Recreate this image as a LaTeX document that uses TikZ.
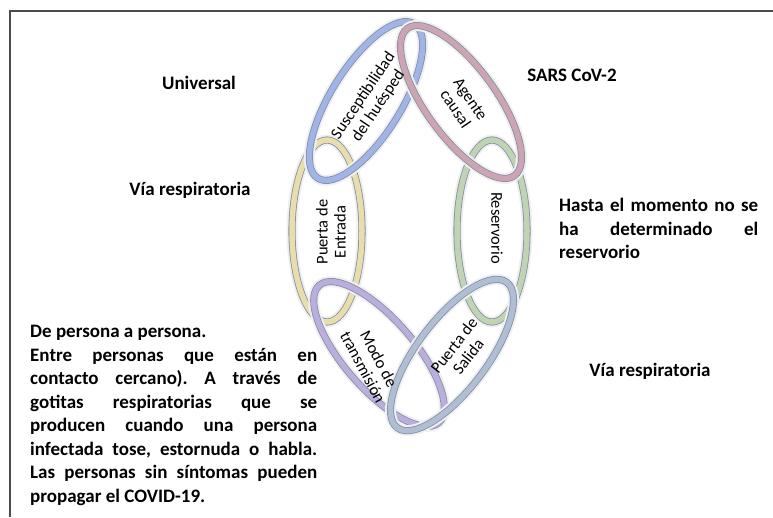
\documentclass[tikz,border=0pt]{standalone}
\usepackage{fontspec}
\setmainfont{Carlito}
\usepackage{xcolor}
\usepackage{tikz}
\usetikzlibrary{shapes}
\definecolor{linkblue}{RGB}{160,180,230}
\definecolor{linkrose}{RGB}{205,165,178}
\definecolor{linksand}{RGB}{232,222,172}
\definecolor{linksage}{RGB}{192,212,180}
\definecolor{linklilac}{RGB}{188,174,220}
\definecolor{linksteel}{RGB}{176,190,212}
\definecolor{rimgrey}{RGB}{130,142,165}
\tikzset{link/.style={ellipse, inner sep=0pt, minimum width=182pt, minimum height=70pt,
    preaction={draw=gray!12, line width=11pt},
    draw=rimgrey, line width=0.8pt, double=#1, double distance=5.5pt},
  linktext/.style={inner sep=0pt, align=center, font=\fontsize{16.5}{18}\selectfont},
  note/.style={inner sep=0pt, font=\bfseries\fontsize{19}{23.5}\selectfont},
  para/.style={note, anchor=north west, align=justify, text width=#1}}

\begin{document}
\frenchspacing
\begin{tikzpicture}[x=1pt,y=-1pt]
\useasboundingbox (0,0) rectangle (773,517);
\draw[line width=1.4pt,gray!60!black] (10,517) -- (10,11) -- (773,11);
\node[link=linksand,rotate=90] (entrada) at (327,231) {};
\node[link=linksage,rotate=-90] (reservorio) at (492,231) {};
\node[link=linkblue,rotate=58] (huesped) at (366,101) {};
\node[link=linkrose,rotate=-54] (agente) at (461,102) {};
\node[link=linklilac,rotate=-49] (modo) at (379,354) {};
\node[link=linksteel,rotate=53] (salida) at (452,355) {};
\node[linktext,rotate=90] (entrada-t) at (331,232) {Puerta de\\Entrada};
\node[linktext,rotate=-90] (reservorio-t) at (497,228) {Reservorio};
\node[linktext,rotate=56] (huesped-t) at (371,101) {Susceptibilidad\\del huésped};
\node[linktext,rotate=-56] (agente-t) at (463,104) {Agente\\causal};
\node[linktext,rotate=-62] (modo-t) at (371,363) {Modo de\\transmisión};
\node[linktext,rotate=52] (salida-t) at (461,351) {Puerta de\\Salida};
\node[note] (universal) at (199,83) {Universal};
\node[note] (sars) at (572,75) {SARS CoV-2};
\node[note] (viaent) at (190,190) {Vía respiratoria};
\node[note] (viasal) at (650,371) {Vía respiratoria};
\node[para=199pt] (hasta) at (559,198) {Hasta el momento no se\linebreak ha determinado el\linebreak reservorio};
\node[para=287pt] (modotxt) at (30,325) {De persona a persona.\\
  Entre personas que están en\linebreak contacto cercano). A través de\linebreak gotitas respiratorias que se\linebreak
  producen cuando una persona\linebreak infectada tose, estornuda o habla.\linebreak Las personas sin síntomas pueden\linebreak
  propagar el COVID-19.};
\end{tikzpicture}
\end{document}
